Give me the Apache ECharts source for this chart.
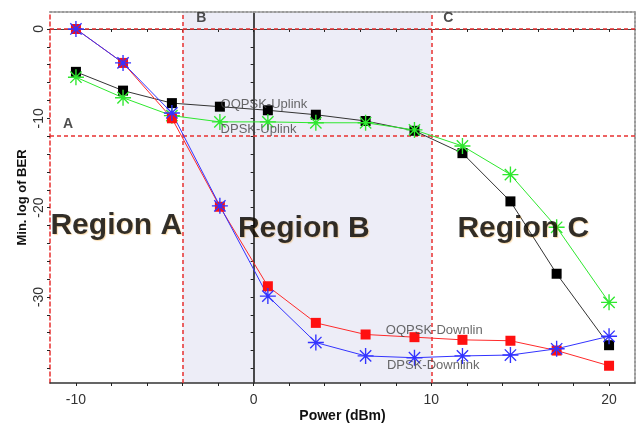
<!DOCTYPE html>
<html><head><meta charset="utf-8">
<script src="https://cdn.jsdelivr.net/npm/echarts@6.0.0/dist/echarts.min.js"></script>
<style>html,body{margin:0;padding:0;background:#fff}#c{width:642px;height:424px}</style>
</head><body><div id="c"></div>
<script>
// ---- data ----
const powerDbm      = [-10, -7.35, -4.6, -1.9, 0.8, 3.5, 6.3, 9.05, 11.75, 14.45, 17.05, 20];
const oqpskUplink   = [-4.8, -6.9, -8.3, -8.7, -9.1, -9.6, -10.3, -11.4, -13.9, -19.3, -27.4, -35.4];
const dpskUplink    = [-5.4, -7.7, -9.7, -10.4, -10.4, -10.5, -10.5, -11.3, -13.1, -16.3, -22.2, -30.6];
const oqpskDownlink = [0, -3.8, -10.0, -19.9, -28.8, -32.9, -34.2, -34.5, -34.8, -34.9, -36.0, -37.7];
const dpskDownlink  = [0, -3.8, -9.4, -19.8, -29.9, -35.1, -36.6, -36.8, -36.6, -36.5, -35.8, -34.4];
const xTickLabels = [-10, 0, 10, 20];
const yTickLabels = [0, -10, -20, -30];
const xMinorTicks = [-10, -8, -6, -4, -2, 0, 2, 4, 6, 8, 10, 12, 14, 16, 18, 20];
const yMinorTicks = [0, -2, -4, -6, -8, -10, -12, -14, -16, -18, -20, -22, -24, -26, -28, -30, -32, -34, -36, -38];
const regionBBounds = [-4, 10];
const regionLinesX = [-4, 10];
const regionLinesY = [0, -12];
const regionLetters = [['A', -10.45, -10.6], ['B', -2.95, 1.2], ['C', 10.95, 1.2]];
const regionTitles = [['Region A', -7.73, -22.0], ['Region B', 2.82, -22.4], ['Region C', 15.17, -22.35]];
const seriesTags = [['OQPSK-Uplink', -1.86, -8.4], ['DPSK-Uplink', -1.86, -11.3], ['OQPSK-Downlin', 7.44, -33.7], ['DPSK-Downlink', 7.5, -37.7]];

const X_MIN = -11.46, X_MAX = 21.46, Y_MIN = -39.63, Y_MAX = 1.9;

// asterisk symbol (4 thin bars -> 8 spokes)
function asteriskPath() {
  const c = 10, L = 10, w = 0.85;
  let p = '';
  [0, 45, 90, 135].forEach(a => {
    const t = a * Math.PI / 180, dx = Math.cos(t), dy = Math.sin(t), nx = -dy, ny = dx;
    const pts = [[c + L*dx + w*nx, c + L*dy + w*ny], [c + L*dx - w*nx, c + L*dy - w*ny],
                 [c - L*dx - w*nx, c - L*dy - w*ny], [c - L*dx + w*nx, c - L*dy + w*ny]];
    p += 'M' + pts.map(q => q[0].toFixed(2) + ' ' + q[1].toFixed(2)).join(' L') + ' Z ';
  });
  return 'path://' + p;
}
const STAR = asteriskPath();
const FONT = 'Liberation Sans, Arial, sans-serif';

function zip(xs, ys) { return xs.map((x, i) => [x, ys[i]]); }

const chart = echarts.init(document.getElementById('c'), null, {renderer: 'canvas'});
const baseX = {type: 'value', min: X_MIN, max: X_MAX, splitLine: {show: false}, z: 2};
const baseY = {type: 'value', min: Y_MIN, max: Y_MAX, splitLine: {show: false}, z: 2};

const option = {
  backgroundColor: '#ffffff',
  animation: false,
  grid: {left: 50, right: 7, top: 12, bottom: 41, containLabel: false, outerBoundsMode: 'none'},
  xAxis: [
    Object.assign({}, baseX, {
      position: 'bottom',
      axisLine: {onZero: false, lineStyle: {color: '#333', width: 1.5}},
      axisTick: {customValues: xMinorTicks, length: 3, lineStyle: {color: '#222'}},
      axisLabel: {customValues: xTickLabels, color: '#333', fontSize: 14, margin: 10, fontFamily: FONT},
      name: 'Power (dBm)', nameLocation: 'middle', nameGap: 26, nameMoveOverlap: false,
      nameTextStyle: {fontWeight: 'bold', fontSize: 14, color: '#111', fontFamily: FONT}
    }),
    Object.assign({}, baseX, {
      position: 'top',
      axisLine: {onZero: false, lineStyle: {color: '#9a9a9a', width: 2, type: 'dotted'}},
      axisTick: {show: false}, axisLabel: {show: false}
    }),
    Object.assign({}, baseX, {
      position: 'bottom',
      axisLine: {onZero: true, onZeroAxisIndex: 0, lineStyle: {color: '#444', width: 1}},
      axisTick: {customValues: xMinorTicks, length: 3, lineStyle: {color: '#222'}},
      axisLabel: {show: false}
    })
  ],
  yAxis: [
    Object.assign({}, baseY, {
      position: 'left',
      axisLine: {onZero: false, lineStyle: {color: '#e83030', width: 1.5, type: [4, 3]}},
      axisTick: {customValues: yMinorTicks, length: 3, lineStyle: {color: '#222'}},
      axisLabel: {customValues: yTickLabels, color: '#333', fontSize: 14, rotate: 90, margin: 4, fontFamily: FONT},
      name: 'Min. log of BER', nameLocation: 'middle', nameGap: 21, nameRotate: 90, nameMoveOverlap: false,
      nameTextStyle: {fontWeight: 'bold', fontSize: 13, color: '#111', fontFamily: FONT}
    }),
    Object.assign({}, baseY, {
      position: 'right',
      axisLine: {onZero: false, lineStyle: {color: '#9a9a9a', width: 2, type: 'dotted'}},
      axisTick: {show: false}, axisLabel: {show: false}
    }),
    Object.assign({}, baseY, {
      position: 'left',
      axisLine: {onZero: true, onZeroAxisIndex: 0, lineStyle: {color: '#111', width: 1.5}},
      axisTick: {customValues: yMinorTicks, length: 3, lineStyle: {color: '#222'}},
      axisLabel: {show: false}
    })
  ],
  series: [
    {
      type: 'line', name: 'regions', data: [], z: 1, silent: true,
      markArea: {silent: true, itemStyle: {color: '#ededf7'}, data: [[{xAxis: regionBBounds[0]}, {xAxis: regionBBounds[1]}]]},
      markLine: {
        silent: true, symbol: 'none', label: {show: false}, z: 3,
        lineStyle: {color: '#e83030', width: 1.5, type: [4, 3]},
        data: regionLinesX.map(v => ({xAxis: v})).concat(regionLinesY.map(v => ({yAxis: v})))
      }
    },
    {
      type: 'line', name: 'OQPSK-Uplink', data: zip(powerDbm, oqpskUplink), z: 4,
      lineStyle: {color: '#333', width: 1}, symbol: 'rect', symbolSize: 10,
      itemStyle: {color: '#000'}
    },
    {
      type: 'line', name: 'DPSK-Uplink', data: zip(powerDbm, dpskUplink), z: 4,
      lineStyle: {color: '#2ee82e', width: 1}, symbol: STAR, symbolSize: 16,
      itemStyle: {color: '#2ee82e'}
    },
    {
      type: 'line', name: 'OQPSK-Downlink', data: zip(powerDbm, oqpskDownlink), z: 4,
      lineStyle: {color: '#ff2a2a', width: 1}, symbol: 'rect', symbolSize: 10,
      itemStyle: {color: '#ff1010'}
    },
    {
      type: 'line', name: 'DPSK-Downlink', data: zip(powerDbm, dpskDownlink), z: 4,
      lineStyle: {color: '#3333ff', width: 1}, symbol: STAR, symbolSize: 16,
      itemStyle: {color: '#3333ff'}
    },
    {
      type: 'scatter', name: 'annotations', symbolSize: 0, z: 6, silent: true,
      data: regionTitles.map(r => ({value: [r[1], r[2]], name: r[0], label: {
          fontSize: 30, fontWeight: 'bold', color: '#000', align: 'center', verticalAlign: 'middle',
          textShadowColor: 'rgba(240,160,40,0.45)', textShadowBlur: 1, textShadowOffsetX: 1, textShadowOffsetY: 1}}))
        .concat(regionLetters.map(r => ({value: [r[1], r[2]], name: r[0], label: {
          fontSize: 14, fontWeight: 'bold', color: '#222', align: 'center', verticalAlign: 'middle'}})))
        .concat(seriesTags.map(r => ({value: [r[1], r[2]], name: r[0], label: {
          fontSize: 13, color: '#444', align: 'left', verticalAlign: 'middle'}}))),
      label: {show: true, position: 'inside', formatter: '{b}', fontFamily: FONT}
    }
  ]
};
chart.setOption(option);
</script>
</body></html>
